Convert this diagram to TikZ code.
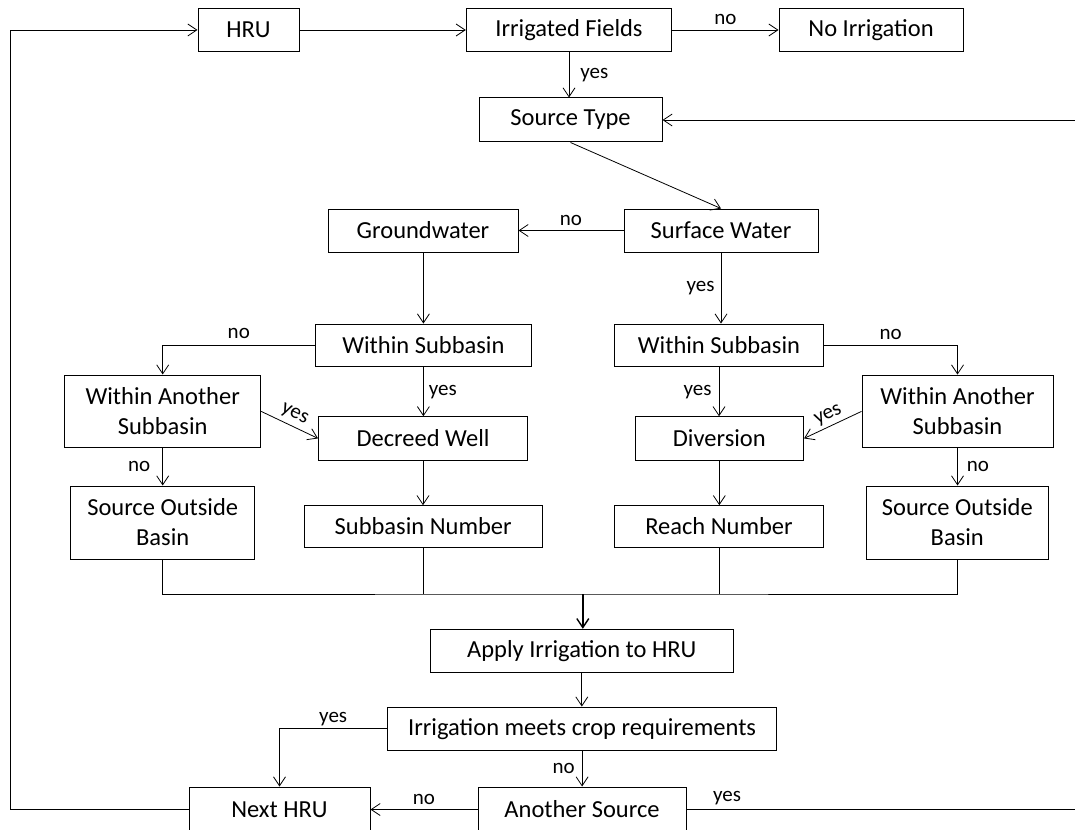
\documentclass[tikz,border=0pt]{standalone}
\usepackage{fontspec}
\setmainfont{Carlito}
\usetikzlibrary{arrows.meta}
\begin{document}
\begin{tikzpicture}[x=1pt,y=-1pt,
  box/.style={draw, line width=1pt, inner sep=0pt, align=center,
    font=\fontsize{24.5}{30}\selectfont},
  lbl/.style={font=\fontsize{21}{24}\selectfont, inner sep=1pt},
  conn/.style={line width=0.8pt, -{Straight Barb[length=9pt,width=12pt]}},
  plain/.style={line width=0.8pt}]
\useasboundingbox (0,0) rectangle (1075,829);

% boxes
\node[box, minimum width=101pt, minimum height=43.5pt] (hru) at (248.5,30) {HRU};
\node[box, minimum width=205.5pt, minimum height=43.5pt] (irr) at (569,30) {Irrigated Fields};
\node[box, minimum width=184pt, minimum height=43.5pt] (noirr) at (871,30) {No Irrigation};
\node[box, minimum width=183pt, minimum height=44pt] (src) at (570.5,120) {Source Type};
\node[box, minimum width=190pt, minimum height=43pt] (gw) at (423,230.5) {Groundwater};
\node[box, minimum width=194pt, minimum height=43pt] (sw) at (721,230.5) {Surface Water};
\node[box, minimum width=216pt, minimum height=42.7pt] (ws1) at (423.4,345.4) {Within Subbasin};
\node[box, minimum width=209pt, minimum height=42.7pt] (ws2) at (719,345.4) {Within Subbasin};
\node[box, minimum width=196pt, minimum height=72.7pt] (was1) at (162.7,411.4) {Within Another\\Subbasin};
\node[box, minimum width=191pt, minimum height=72.7pt] (was2) at (957.5,411.4) {Within Another\\Subbasin};
\node[box, minimum width=209pt, minimum height=43.3pt] (dw) at (423,438.4) {Decreed Well};
\node[box, minimum width=168.5pt, minimum height=43.3pt] (div) at (719.3,438.4) {Diversion};
\node[box, minimum width=184pt, minimum height=73pt] (sob1) at (162.7,522.5) {Source Outside\\Basin};
\node[box, minimum width=181.5pt, minimum height=73pt] (sob2) at (957.3,522.5) {Source Outside\\Basin};
\node[box, minimum width=238pt, minimum height=41.6pt] (sbn) at (423.2,526.5) {Subbasin Number};
\node[box, minimum width=209pt, minimum height=41.6pt] (rn) at (719,526.5) {Reach Number};
\node[box, minimum width=302.5pt, minimum height=43pt] (apply) at (581.8,650.8) {Apply Irrigation to HRU};
\node[box, minimum width=389.4pt, minimum height=43.3pt] (meets) at (582.1,728.7) {Irrigation meets crop requirements};
\node[box, minimum width=181pt, minimum height=45pt] (next) at (279.5,809.5) {Next HRU};
\node[box, minimum width=208pt, minimum height=45pt] (another) at (582,809.5) {Another Source};

% helper coordinates
\coordinate (join) at (582.8,594);
\coordinate (lc) at (10.3,809.5);
\coordinate (rc) at (1085,809.5);

% connectors
\draw[conn] (hru.east) -- (irr.west);
\draw[conn] (irr.east) -- node[lbl, above=4pt] {no} (noirr.west);
\draw[conn] (irr.south) -- node[lbl, right=10pt] {yes} (irr.south |- src.north);
\draw[conn] (src.south) -- (sw.north);
\draw[conn] (sw.west) -- node[lbl, above=3pt] {no} (gw.east);
\draw[conn] (gw.south) -- (gw.south -| ws1.north) -- (ws1.north);
\draw[conn] (sw.south) -- node[lbl, left=5pt] {yes} (sw.south |- ws2.north);
\draw[conn] (ws1.west) -| node[lbl, above=5pt, pos=0.25] {no} (was1.north);
\draw[conn] (ws2.east) -| node[lbl, above=4pt, pos=0.25] {no} (was2.north);
\draw[conn] (was1.east) -- node[lbl, sloped, above=3pt] {yes} (dw.west);
\draw[conn] (was2.west) -- node[lbl, sloped, above=2pt] {yes} (div.east);
\draw[conn] (ws1.south) -- node[lbl, right=4pt] {yes} (ws1.south |- dw.north);
\draw[conn] (ws2.south) -- node[lbl, left=6pt] {yes} (ws2.south |- div.north);
\draw[conn] (was1.south) -- node[lbl, left=11pt] {no} (sob1.north);
\draw[conn] (was2.south) -- node[lbl, right=8pt] {no} (was2.south |- sob2.north);
\draw[conn] (dw.south) -- (dw.south |- sbn.north);
\draw[conn] (div.south) -- (div.south |- rn.north);

% collector
\draw[plain] (sob1.south) |- (join) -| (sob2.south);
\draw[plain] (sbn.south) -- (sbn.south |- join);
\draw[plain] (rn.south) -- (rn.south |- join);
\draw[conn, line width=1.4pt] (join) -- (join |- apply.north);

\draw[conn] (apply.south) -- (apply.south |- meets.north);
\draw[conn] (meets.west) -| node[lbl, above=1pt, pos=0.25] {yes} (next.north);
\draw[conn] (meets.south) -- node[lbl, left=6pt] {no} (meets.south |- another.north);
\draw[conn] (another.west) -- node[lbl, above=3pt] {no} (next.east);
\draw[conn] (another.east) -- node[lbl, above=3pt, pos=0.102] {yes} (rc) |- (src.east);
\draw[conn] (next.west) -- (lc) |- (hru.west);
\end{tikzpicture}
\end{document}
